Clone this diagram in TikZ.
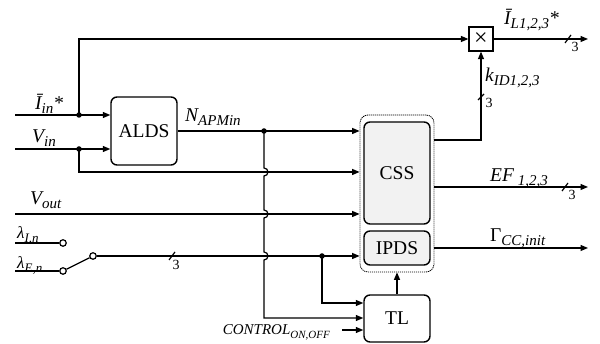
\documentclass[tikz,border=0pt]{standalone}
\usepackage{fontspec}
\setmainfont{Liberation Serif}
\usetikzlibrary{arrows.meta}
\newcommand{\sbx}[2][15]{\raisebox{-4pt}{\fontsize{#1}{#1}\selectfont #2}}
\begin{document}
\begin{tikzpicture}[x=1pt,y=1pt,
  wire/.style={line width=1.2pt},
  arr/.style={wire,-{Triangle[length=7.5pt,width=6pt]}},
  blk/.style={draw,line width=1.4pt,rounded corners=6pt,minimum width=66pt,font=\fontsize{19.5}{22}\selectfont,inner sep=0},
  lbl/.style={font=\fontsize{19.5}{22}\selectfont\itshape,inner sep=0,anchor=base west},
  three/.style={font=\fontsize{14}{16}\selectfont,inner sep=0},
  dotn/.style={circle,fill,inner sep=0,minimum size=5.5pt},
  ocirc/.style={circle,draw,line width=1.2pt,fill=white,inner sep=0,minimum size=6.5pt},
]
\useasboundingbox (0,0) rectangle (600,344);
% blocks
\node[draw,dash pattern=on 1.2pt off 0.8pt,line width=0.8pt,rounded corners=8pt,minimum width=74pt,minimum height=157pt,inner sep=0] (grp) at (397,150.5) {};
\node[blk,minimum height=68pt] (alds) at (144,213) {ALDS};
\node[blk,minimum height=102pt,fill=gray!10] (css) at (397,171) {CSS};
\node[blk,minimum height=34pt,fill=gray!10] (ipds) at (397,96) {IPDS};
\node[blk,minimum height=47pt] (tl) at (397,25.5) {TL};
\node[draw,line width=1.2pt,minimum size=24pt,inner sep=0,font=\fontsize{24}{26}\selectfont] (mul) at (481,305) {×};
% coordinates
\coordinate (iinS) at (15,229);
\coordinate (vinS) at (15,195);
\coordinate (voutS) at (15,130);
\coordinate (lamIS) at (15,101);
\coordinate (lamES) at (15,73);
\coordinate (vinB) at (79,172);
\coordinate (tlin2) at (264,26);
\coordinate (tlin1) at (322,41);
\coordinate (ctl) at (342,14);
\coordinate (kc) at (481,204);
\coordinate (efE) at (588,157);
\coordinate (gE) at (588,96);
\coordinate (iLE) at (588,305);
\node[dotn] (iinD) at (79,229) {};
\node[dotn] (vinD) at (79,195) {};
\node[dotn] (nD) at (264,213) {};
\node[dotn] (lD) at (322,88) {};
\node[ocirc] (lamI) at (63,101) {};
\node[ocirc] (lamE) at (63,73) {};
\node[ocirc] (sw) at (93,88) {};
% wires
\draw[arr] (iinS) -- (iinS -| alds.west);
\draw[arr] (iinD.center) |- (mul.west);
\draw[arr] (vinS) -- (vinS -| alds.west);
\draw[arr] (vinD.center) -- (vinB) -- (vinB -| grp.west);
\draw[arr] (alds.east) -- (alds.east -| grp.west);
\draw[arr] (voutS) -- (voutS -| grp.west);
\draw[arr] (nD.center) -- (264,176) arc[start angle=90,end angle=-90,radius=4pt]
  -- (264,134) arc[start angle=90,end angle=-90,radius=4pt]
  -- (264,92) arc[start angle=90,end angle=-90,radius=4pt]
  -- (tlin2) -- (tlin2 -| tl.west);
\draw[wire] (lamIS) -- (lamI.west);
\draw[wire] (lamES) -- (lamE.west);
\draw[wire] (lamE) -- (sw);
\draw[arr] (sw.east) -- (sw -| grp.west);
\draw[arr] (lD.center) -- (tlin1) -- (tlin1 -| tl.west);
\draw[arr] (ctl) -- (ctl -| tl.west);
\draw[arr] (tl.north) -- (grp.south);
\draw[arr] (kc -| grp.east) -- (kc) -- (mul.south);
\draw[arr] (efE -| grp.east) -- (efE);
\draw[arr] (ipds.east -| grp.east) -- (gE);
\draw[arr] (mul.east) -- (iLE);
% bus marks
\draw[wire] (565,301) -- (571,309); \node[three] (t1) at (575,297) {3};
\draw[wire] (562,153) -- (568,161); \node[three] (t2) at (572,149) {3};
\draw[wire] (478,244) -- (484,250); \node[three] (t3) at (489,241) {3};
\draw[wire] (169,84) -- (175,92); \node[three] (t4) at (176,79) {3};
% labels
\node[lbl] (l1) at (35,234) {Ī\sbx{in}*};
\node[lbl] (l2) at (32,201) {V\sbx{in}};
\node[lbl] (l3) at (185,222) {N\sbx{APMin}};
\node[lbl] (l4) at (30,139) {V\sbx{out}};
\node[lbl,font=\fontsize{17}{20}\selectfont\itshape] (l5) at (17,105) {λ\sbx[13]{I,n}};
\node[lbl,font=\fontsize{17}{20}\selectfont\itshape] (l6) at (17,75) {λ\sbx[13]{E,n}};
\node[lbl] (l7) at (504,319) {Ī\sbx{L1,2,3}*};
\node[lbl] (l8) at (485,262) {k\sbx{ID1,2,3}};
\node[lbl] (l9) at (490,162) {EF\sbx{ 1,2,3}};
\node[lbl] (l10) at (490,102) {\upshape Γ\sbx{\itshape CC,init}};
\node[lbl,font=\fontsize{15}{16}\selectfont\itshape,anchor=base east] (l11) at (330,9) {CONTROL\sbx[11]{ON,OFF}};
\end{tikzpicture}
\end{document}
